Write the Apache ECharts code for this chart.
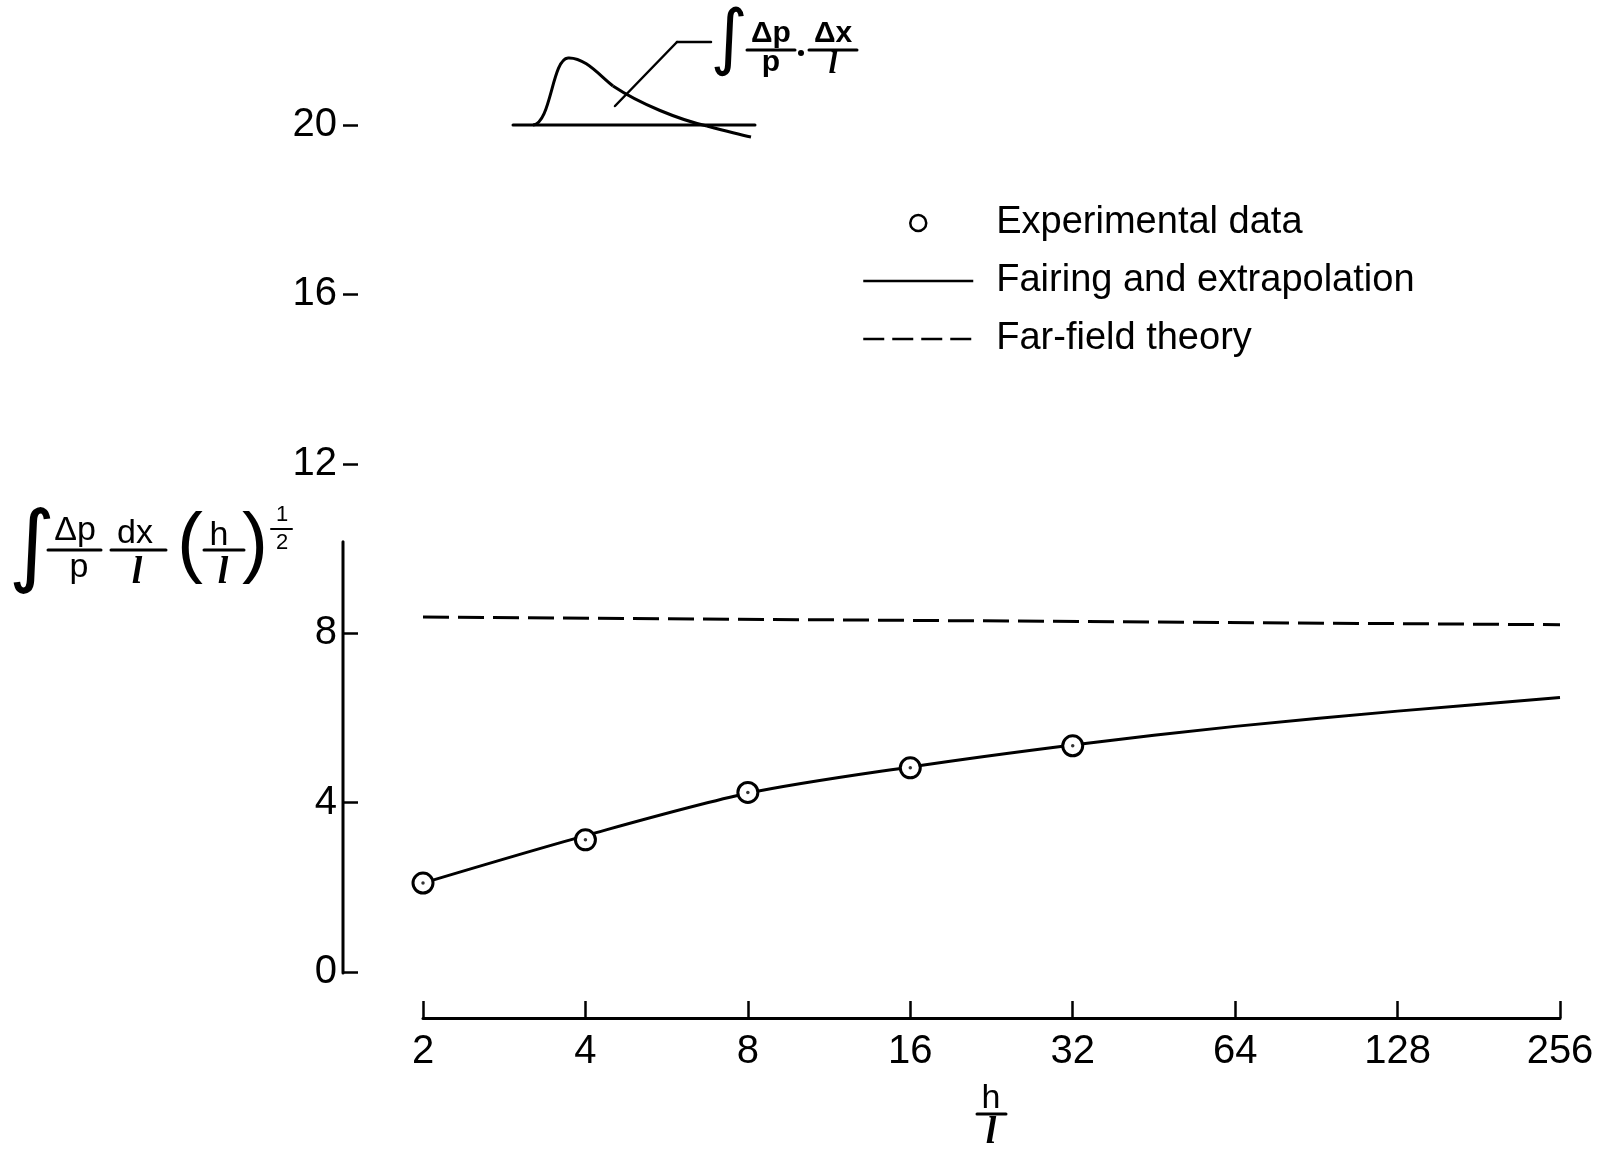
<!DOCTYPE html>
<html>
<head>
<meta charset="utf-8">
<title>Integrated pressure signature vs h/l</title>
<script src="https://cdn.jsdelivr.net/npm/echarts@6/dist/echarts.min.js"></script>
<style>
  html, body { margin: 0; padding: 0; background: #fff; }
  #chart { width: 1612px; height: 1152px; }
</style>
</head>
<body>
<div id="chart"></div>
<script>
// Tick values along the log2 h/l axis
const X_TICKS = [2, 4, 8, 16, 32, 64, 128, 256];
const Y_TICKS = [0, 4, 8, 12, 16, 20];

// Experimental data points
const EXP_X = [2, 4, 8, 16, 32];
const EXP_Y = [2.10, 3.12, 4.24, 4.82, 5.34];

// Faired curve and its extrapolation
const FAIR_X = [2, 4, 8, 16, 32, 64, 128, 256];
const FAIR_Y = [2.10, 3.22, 4.22, 4.84, 5.36, 5.80, 6.16, 6.48];

// Far-field theory level
const FAR_X = [2, 256];
const FAR_Y = [8.38, 8.20];

// Series names
const NAMES = ['Experimental data', 'Fairing and extrapolation', 'Far-field theory'];

const FAMILY = '"Liberation Sans", "DejaVu Sans", sans-serif';
const ITAL_FAMILY = '"Liberation Serif", "DejaVu Serif", serif';
const INK = '#000';
const AXIS_LINE_TOP = 10.16;   // the drawn y-axis rule stops a little above 10
const Y_AXIS_OFFSET = 80;

const pairs = (xs, ys) => xs.map((x, i) => [x, ys[i]]);

const chart = echarts.init(document.getElementById('chart'), null, { renderer: 'canvas' });

const option = {
  backgroundColor: '#fff',
  animation: false,
  grid: { left: 423, right: 52, top: 125, bottom: 180 },
  legend: {
    orient: 'vertical',
    left: 857,
    top: 198,
    itemWidth: 110,
    itemHeight: 16,
    itemGap: 18,
    selectedMode: false,
    textStyle: { color: INK, fontFamily: FAMILY, fontSize: 38, lineHeight: 40, padding: [0, 0, 0, 18] },
    data: [
      { name: NAMES[0], icon: 'circle', itemStyle: { color: '#fff', borderColor: INK, borderWidth: 2.5 } },
      { name: NAMES[1], itemStyle: { opacity: 0 }, lineStyle: { color: INK, width: 2.5, type: 'solid', opacity: 1 } },
      { name: NAMES[2], itemStyle: { opacity: 0 }, lineStyle: { color: INK, width: 2.5, type: [21, 8], opacity: 1 } }
    ]
  },
  xAxis: {
    type: 'log',
    logBase: 2,
    min: X_TICKS[0],
    max: X_TICKS[X_TICKS.length - 1],
    interval: 1,
    offset: 46,
    axisLine: { show: true, onZero: false, lineStyle: { color: INK, width: 3 } },
    axisTick: { show: true, inside: true, length: 17, lineStyle: { color: INK, width: 2.5 } },
    axisLabel: {
      color: INK, fontFamily: FAMILY, fontSize: 40, margin: 14,
      formatter: v => String(Math.round(v))
    },
    splitLine: { show: false },
    minorTick: { show: false }
  },
  yAxis: {
    type: 'value',
    min: Y_TICKS[0],
    max: Y_TICKS[Y_TICKS.length - 1],
    interval: 4,
    offset: Y_AXIS_OFFSET,
    axisLine: { show: false, onZero: false },
    axisTick: { show: true, inside: true, length: 15, lineStyle: { color: INK, width: 2.5 } },
    axisLabel: { color: INK, fontFamily: FAMILY, fontSize: 40, margin: 6 },
    splitLine: { show: false }
  },
  series: [
    {
      name: NAMES[1],
      type: 'line',
      data: pairs(FAIR_X, FAIR_Y),
      smooth: 0.3,
      symbol: 'none',
      itemStyle: { color: INK },
      lineStyle: { color: INK, width: 3 },
      z: 2
    },
    {
      name: NAMES[2],
      type: 'line',
      data: pairs(FAR_X, FAR_Y),
      symbol: 'none',
      itemStyle: { color: INK },
      lineStyle: { color: INK, width: 3, type: [26, 9] },
      z: 2
    },
    {
      name: NAMES[0],
      type: 'scatter',
      data: pairs(EXP_X, EXP_Y),
      symbol: 'circle',
      symbolSize: 20,
      itemStyle: { color: '#fff', borderColor: INK, borderWidth: 3, opacity: 1 },
      z: 3
    },
    {
      name: 'centre dots',
      type: 'scatter',
      data: pairs(EXP_X, EXP_Y),
      symbol: 'circle',
      symbolSize: 3.5,
      itemStyle: { color: INK },
      silent: true,
      z: 4
    }
  ]
};

chart.setOption(option);

// Helpers for the lettered formulas
const txt = (text, x, y, size, family, style) => ({
  type: 'text', x: x, y: y, silent: true, z: 10,
  style: {
    text: text,
    font: (style ? style + ' ' : '') + size + 'px ' + (family || FAMILY),
    fill: INK,
    textAlign: 'center', textVerticalAlign: 'middle'
  }
});
const ell = (x, y, size) => txt('l', x, y, size, ITAL_FAMILY, 'italic bold');
const rule = (x1, y1, x2, y2, w) => ({
  type: 'line', silent: true, z: 10,
  shape: { x1: x1, y1: y1, x2: x2, y2: y2 },
  style: { stroke: INK, lineWidth: w || 3, lineCap: 'round' }
});
const curve = (x1, y1, cpx1, cpy1, cpx2, cpy2, x2, y2) => ({
  type: 'bezierCurve', silent: true, z: 10,
  shape: { x1: x1, y1: y1, cpx1: cpx1, cpy1: cpy1, cpx2: cpx2, cpy2: cpy2, x2: x2, y2: y2 },
  style: { stroke: INK, lineWidth: 3, fill: null }
});

// Partial vertical axis rule, placed through the axis scale
const gridLeft = option.grid.left;
const axisX = gridLeft - Y_AXIS_OFFSET;
const yZero = chart.convertToPixel({ yAxisIndex: 0 }, 0);
const yTop = chart.convertToPixel({ yAxisIndex: 0 }, AXIS_LINE_TOP);

const INTEGRAL_FAMILY = '"DejaVu Sans", sans-serif';

const graphics = [
  rule(axisX, yZero + 1, axisX, yTop, 3),

  // y-axis title: ∫ Δp/p dx/l (h/l)^(1/2)
  txt('\u222B', 32, 552, 90, INTEGRAL_FAMILY),
  txt('\u0394p', 75, 531, 34),
  rule(48, 550, 101, 550, 3),
  txt('p', 79, 568, 34),
  txt('dx', 135, 534, 34),
  rule(111, 550, 166, 550, 3),
  ell(137, 573, 38),
  txt('(', 190, 546, 78),
  txt('h', 219, 536, 34),
  rule(204, 550, 244, 550, 3),
  ell(223, 573, 38),
  txt(')', 255, 546, 78),
  txt('1', 282, 515, 22),
  rule(271, 529, 292, 529, 2),
  txt('2', 282, 543, 22),

  // x-axis title: h/l
  txt('h', 991, 1099, 34),
  rule(977, 1114, 1006, 1114, 3),
  ell(991, 1133, 38),

  // inset sketch of a pressure signature
  rule(513, 125, 755, 125, 3),
  curve(533, 125, 551, 124, 552, 59, 568, 58),
  curve(568, 58, 585, 57, 600, 76, 613, 86),
  curve(613, 86, 640, 104, 680, 120, 707, 126),
  curve(707, 126, 722, 130, 737, 134, 751, 137),
  rule(615, 106, 677, 42, 2.5),
  rule(677, 42, 711, 42, 2.5),

  // inset label: ∫ Δp/p · Δx/l
  txt('\u222B', 729, 42, 72, INTEGRAL_FAMILY),
  txt('\u0394p', 771, 34, 30, FAMILY, 'bold'),
  rule(747, 50, 795, 50, 3),
  txt('p', 771, 63, 30, FAMILY, 'bold'),
  { type: 'circle', silent: true, z: 10, shape: { cx: 801, cy: 53, r: 3 }, style: { fill: INK } },
  txt('\u0394x', 833, 34, 30, FAMILY, 'bold'),
  rule(809, 50, 857, 50, 3),
  ell(833, 65, 32)
];

chart.setOption({ graphic: graphics });
</script>
</body>
</html>
